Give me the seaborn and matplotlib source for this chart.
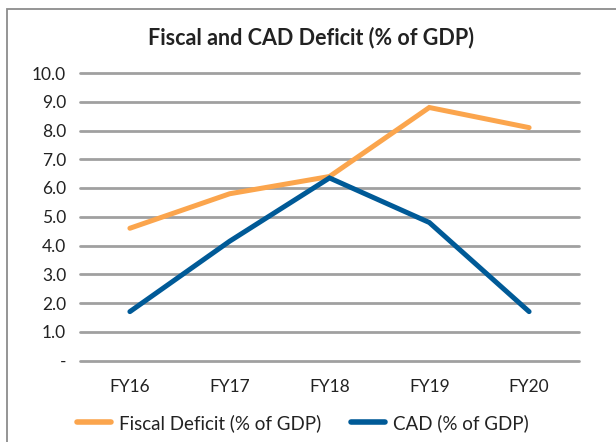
import matplotlib
matplotlib.use("Agg")
import matplotlib.pyplot as plt
import seaborn as sns
import pandas as pd
from matplotlib.patches import Rectangle
from matplotlib.lines import Line2D

years = ["FY16", "FY17", "FY18", "FY19", "FY20"]
fiscal = [4.6, 5.8, 6.4, 8.8, 8.1]
cad = [1.7, 4.15, 6.35, 4.8, 1.7]
series_names = ["Fiscal Deficit (% of GDP)", "CAD (% of GDP)"]
colors = ["#FBA54D", "#005A97"]
yticks = [0, 1, 2, 3, 4, 5, 6, 7, 8, 9, 10]
ytick_labels = ["-", "1.0", "2.0", "3.0", "4.0", "5.0", "6.0", "7.0", "8.0", "9.0", "10.0"]

df = pd.DataFrame({
    "Year": years * 2,
    "Value": fiscal + cad,
    "Series": [series_names[0]] * len(years) + [series_names[1]] * len(years),
})

sns.set_theme(style="white")
plt.rcParams["font.family"] = ["Lato", "DejaVu Sans"]

W, H = 616, 442
fig = plt.figure(figsize=(W / 100, H / 100), dpi=100)
x0, x1, y_top, y_bot = 80, 579, 73, 360.5
ax = fig.add_axes([x0 / W, 1 - y_bot / H, (x1 - x0) / W, (y_bot - y_top) / H])

for y in yticks:
    ax.axhline(y, color="#A0A0A0", lw=2.0, zorder=0, clip_on=False)

sns.lineplot(data=df, x="Year", y="Value", hue="Series", palette=colors,
             lw=3.6, ax=ax, sort=False, legend=False, zorder=3)
for l in ax.lines[-2:]:
    l.set_solid_capstyle("round")
    l.set_solid_joinstyle("miter")

ax.set_xlim(-0.5, 4.5)
ax.set_ylim(0, 10)
ax.set_yticks(yticks)
ax.set_yticklabels(ytick_labels, fontsize=12.5, color="#222222")
ax.tick_params(axis="y", pad=10, length=0)
ax.tick_params(axis="x", pad=13, length=0, labelsize=12.5, labelcolor="#222222")
ax.set_xlabel("")
ax.set_ylabel("")
for s in ax.spines.values():
    s.set_visible(False)

handles = [Line2D([0], [0], color=c, lw=4, solid_capstyle="round") for c in colors]
leg = fig.legend(handles, series_names, loc="center", bbox_to_anchor=(303 / W, 1 - 423 / H),
                 ncol=2, frameon=False, fontsize=13.5, handlelength=1.8, columnspacing=1.6,
                 handletextpad=0.45)
for t in leg.get_texts():
    t.set_color("#222222")

fig.text(311 / W, 1 - 38 / H, "Fiscal and CAD Deficit (% of GDP)", ha="center", va="center",
         fontsize=15.5, fontweight="bold", color="#222222")

fig.patches.append(Rectangle((7 / W, -0.1), 1.2, 1 - 9 / H + 0.1, transform=fig.transFigure,
                             fill=False, edgecolor="#8C8C8C", lw=1.3, zorder=0))

fig.savefig("out.png", dpi=100)
